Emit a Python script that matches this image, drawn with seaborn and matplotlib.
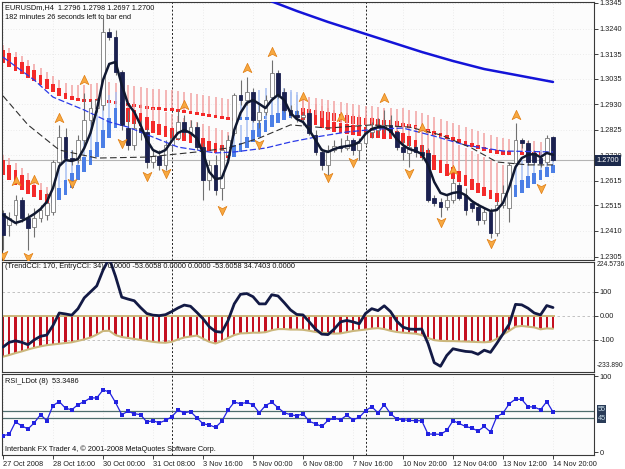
import numpy as np
import matplotlib
matplotlib.use('Agg')
import matplotlib.pyplot as plt
import matplotlib.transforms as mtransforms
from matplotlib.path import Path
import seaborn as sns

sns.set_theme(style='white')
plt.rcParams['font.family'] = ['Liberation Sans', 'DejaVu Sans']
FS = 5.3

# ---- price data (EURUSDm H4) ----
bars = np.arange(89)
date_ticks = [0, 8, 16, 24, 32, 40, 48, 56, 64, 72, 80, 88]
date_labels = ['27 Oct 2008', '28 Oct 16:00', '30 Oct 00:00', '31 Oct 08:00', '3 Nov 16:00',
               '5 Nov 00:00', '6 Nov 08:00', '7 Nov 16:00', '10 Nov 20:00', '12 Nov 04:00',
               '13 Nov 12:00', '14 Nov 20:00']
separators = [27, 58]
price_ticks = [1.3345, 1.3240, 1.3135, 1.3035, 1.2930, 1.2825, 1.2720, 1.2615, 1.2515, 1.2410, 1.2305]

open_ = [1.2484, 1.2435, 1.2476, 1.2537, 1.2464, 1.2427, 1.2464, 1.2476, 1.2488, 1.2693,
         1.2795, 1.2709, 1.2701, 1.2783, 1.2865, 1.2914, 1.2927, 1.3226, 1.3205, 1.3062,
         1.2832, 1.2762, 1.2832, 1.2816, 1.2693, 1.2717, 1.2681, 1.2762, 1.2791, 1.2857,
         1.2816, 1.2836, 1.2754, 1.2619, 1.2681, 1.2586, 1.2722, 1.2812, 1.2968, 1.2947,
         1.2980, 1.2865, 1.2898, 1.2959, 1.3058, 1.2980, 1.2906, 1.2886, 1.2877, 1.2894,
         1.2804, 1.2734, 1.2681, 1.2742, 1.2758, 1.2750, 1.2783, 1.2742, 1.2771, 1.2816,
         1.2824, 1.2832, 1.2845, 1.2816, 1.2754, 1.2730, 1.2754, 1.2734, 1.2730, 1.2545,
         1.2529, 1.2509, 1.2537, 1.2599, 1.2557, 1.2525, 1.2509, 1.2455, 1.2488, 1.2402,
         1.2517, 1.2504, 1.2689, 1.2783, 1.2771, 1.2730, 1.2709, 1.2693, 1.2796]
close = [1.2394, 1.2464, 1.2537, 1.2464, 1.2422, 1.2464, 1.2496, 1.2525, 1.2693, 1.2795,
         1.2709, 1.2701, 1.2783, 1.2865, 1.2914, 1.2947, 1.3226, 1.3205, 1.3062, 1.2845,
         1.2762, 1.2832, 1.2816, 1.2693, 1.2717, 1.2681, 1.2762, 1.2791, 1.2857, 1.2816,
         1.2836, 1.2754, 1.2619, 1.2681, 1.2578, 1.2742, 1.2783, 1.2968, 1.2947, 1.2980,
         1.2865, 1.2898, 1.2947, 1.3058, 1.2968, 1.2906, 1.2886, 1.2877, 1.2886, 1.2812,
         1.2734, 1.2681, 1.2742, 1.2758, 1.2750, 1.2783, 1.2742, 1.2771, 1.2816, 1.2824,
         1.2832, 1.2845, 1.2816, 1.2754, 1.2734, 1.2754, 1.2734, 1.2722, 1.2537, 1.2525,
         1.2509, 1.2537, 1.2607, 1.2545, 1.2496, 1.2504, 1.2455, 1.2488, 1.2402, 1.2517,
         1.2566, 1.2681, 1.2783, 1.2771, 1.2693, 1.2693, 1.2689, 1.2791, 1.2700]
high = [1.2496, 1.2488, 1.2557, 1.2549, 1.2484, 1.2504, 1.2517, 1.2566, 1.2701, 1.2845,
        1.2832, 1.2742, 1.2804, 1.2976, 1.2947, 1.2955, 1.3283, 1.3242, 1.3234, 1.3070,
        1.2906, 1.2865, 1.2865, 1.2832, 1.2742, 1.2742, 1.2783, 1.2824, 1.2906, 1.2886,
        1.2865, 1.2857, 1.2771, 1.2701, 1.2722, 1.2762, 1.2804, 1.2976, 1.3029, 1.3041,
        1.2996, 1.2927, 1.2968, 1.3111, 1.3070, 1.2996, 1.2927, 1.2906, 1.2898, 1.2906,
        1.2824, 1.2750, 1.2762, 1.2783, 1.2791, 1.2804, 1.2791, 1.2791, 1.2845, 1.2857,
        1.2873, 1.2906, 1.2886, 1.2824, 1.2783, 1.2783, 1.2762, 1.2762, 1.2750, 1.2557,
        1.2545, 1.2557, 1.2627, 1.2611, 1.2586, 1.2537, 1.2525, 1.2504, 1.2504, 1.2537,
        1.2599, 1.2689, 1.2853, 1.2791, 1.2783, 1.2742, 1.2722, 1.2804, 1.2798]
low = [1.2332, 1.2389, 1.2435, 1.2447, 1.2332, 1.2385, 1.2447, 1.2455, 1.2476, 1.2681,
       1.2701, 1.2681, 1.2689, 1.2762, 1.2832, 1.2898, 1.2906, 1.3193, 1.3050, 1.2824,
       1.2742, 1.2742, 1.2783, 1.2668, 1.2668, 1.2660, 1.2660, 1.2742, 1.2783, 1.2804,
       1.2799, 1.2742, 1.2537, 1.2578, 1.2557, 1.2537, 1.2701, 1.2804, 1.2927, 1.2927,
       1.2857, 1.2832, 1.2886, 1.2947, 1.2955, 1.2898, 1.2873, 1.2857, 1.2845, 1.2804,
       1.2722, 1.2660, 1.2640, 1.2734, 1.2734, 1.2742, 1.2722, 1.2701, 1.2762, 1.2791,
       1.2804, 1.2812, 1.2799, 1.2742, 1.2701, 1.2672, 1.2713, 1.2701, 1.2529, 1.2513,
       1.2468, 1.2496, 1.2525, 1.2537, 1.2476, 1.2488, 1.2435, 1.2439, 1.2381, 1.2389,
       1.2504, 1.2447, 1.2681, 1.2750, 1.2681, 1.2681, 1.2672, 1.2681, 1.2697]
last_price = 1.2700

# ---- smoothed heiken ashi, slow (upper band) ----
slow_open = [1.3152, 1.3140, 1.3123, 1.3103, 1.3086, 1.3070, 1.3050, 1.3033, 1.3013, 1.2996,
             1.2976, 1.2964, 1.2955, 1.2951, 1.2951, 1.2951, 1.2951, 1.2947, 1.2943, 1.2939,
             1.2935, 1.2931, 1.2927, 1.2923, 1.2918, 1.2918, 1.2914, 1.2914, 1.2910, 1.2906,
             1.2902, 1.2898, 1.2894, 1.2890, 1.2886, 1.2882, 1.2877, 1.2873, 1.2865, 1.2865,
             1.2865, 1.2869, 1.2869, 1.2873, 1.2873, 1.2873, 1.2873, 1.2873, 1.2914, 1.2910,
             1.2906, 1.2902, 1.2898, 1.2894, 1.2890, 1.2886, 1.2882, 1.2877, 1.2873, 1.2873,
             1.2869, 1.2865, 1.2865, 1.2861, 1.2853, 1.2849, 1.2845, 1.2836, 1.2828, 1.2820,
             1.2812, 1.2804, 1.2795, 1.2787, 1.2779, 1.2771, 1.2762, 1.2754, 1.2746, 1.2742,
             1.2738, 1.2738, 1.2734, 1.2734, 1.2734, 1.2734, 1.2734, 1.2734, 1.2734]
slow_close = [1.3099, 1.3082, 1.3066, 1.3054, 1.3037, 1.3025, 1.3009, 1.2992, 1.2980, 1.2964,
              1.2951, 1.2947, 1.2943, 1.2939, 1.2939, 1.2939, 1.2939, 1.2935, 1.2931, 1.2927,
              1.2923, 1.2918, 1.2914, 1.2910, 1.2906, 1.2906, 1.2902, 1.2902, 1.2898, 1.2894,
              1.2890, 1.2886, 1.2882, 1.2877, 1.2873, 1.2869, 1.2865, 1.2861, 1.2877, 1.2877,
              1.2877, 1.2882, 1.2882, 1.2886, 1.2886, 1.2886, 1.2886, 1.2886, 1.2882, 1.2877,
              1.2873, 1.2869, 1.2865, 1.2861, 1.2857, 1.2853, 1.2849, 1.2845, 1.2845, 1.2845,
              1.2841, 1.2841, 1.2841, 1.2841, 1.2836, 1.2832, 1.2828, 1.2820, 1.2812, 1.2804,
              1.2795, 1.2787, 1.2779, 1.2771, 1.2762, 1.2754, 1.2746, 1.2738, 1.2730, 1.2726,
              1.2722, 1.2722, 1.2722, 1.2722, 1.2722, 1.2722, 1.2722, 1.2722, 1.2722]
slow_high = [1.3173, 1.3160, 1.3144, 1.3127, 1.3111, 1.3095, 1.3078, 1.3062, 1.3046, 1.3029,
             1.3017, 1.3009, 1.3009, 1.3009, 1.3013, 1.3017, 1.3021, 1.3021, 1.3017, 1.3013,
             1.3009, 1.3005, 1.3000, 1.2996, 1.2992, 1.2992, 1.2988, 1.2988, 1.2984, 1.2980,
             1.2976, 1.2972, 1.2968, 1.2964, 1.2959, 1.2955, 1.2951, 1.2947, 1.2955, 1.2968,
             1.2980, 1.2988, 1.2996, 1.3000, 1.3000, 1.2996, 1.2988, 1.2980, 1.2964, 1.2959,
             1.2955, 1.2951, 1.2947, 1.2943, 1.2939, 1.2935, 1.2931, 1.2927, 1.2923, 1.2923,
             1.2918, 1.2914, 1.2914, 1.2910, 1.2914, 1.2906, 1.2902, 1.2894, 1.2886, 1.2877,
             1.2869, 1.2861, 1.2853, 1.2845, 1.2836, 1.2828, 1.2820, 1.2812, 1.2804, 1.2795,
             1.2791, 1.2787, 1.2783, 1.2783, 1.2779, 1.2779, 1.2775, 1.2775, 1.2775]

# ---- smoothed heiken ashi, fast (lower band) ----
fast_open = [1.2701, 1.2681, 1.2660, 1.2640, 1.2619, 1.2599, 1.2578, 1.2562, 1.2525, 1.2537,
             1.2557, 1.2586, 1.2619, 1.2652, 1.2681, 1.2713, 1.2750, 1.2791, 1.2832, 1.2865,
             1.2914, 1.2906, 1.2894, 1.2877, 1.2861, 1.2849, 1.2841, 1.2832, 1.2824, 1.2820,
             1.2812, 1.2804, 1.2791, 1.2779, 1.2771, 1.2762, 1.2750, 1.2713, 1.2734, 1.2750,
             1.2775, 1.2795, 1.2816, 1.2836, 1.2853, 1.2865, 1.2873, 1.2873, 1.2898, 1.2894,
             1.2886, 1.2873, 1.2865, 1.2857, 1.2853, 1.2849, 1.2845, 1.2841, 1.2836, 1.2832,
             1.2832, 1.2828, 1.2824, 1.2820, 1.2812, 1.2799, 1.2783, 1.2762, 1.2742, 1.2722,
             1.2701, 1.2685, 1.2672, 1.2656, 1.2640, 1.2623, 1.2607, 1.2590, 1.2578, 1.2566,
             1.2557, 1.2537, 1.2549, 1.2566, 1.2586, 1.2603, 1.2619, 1.2631, 1.2648]
fast_close = [1.2640, 1.2619, 1.2599, 1.2578, 1.2562, 1.2549, 1.2537, 1.2525, 1.2557, 1.2586,
              1.2619, 1.2648, 1.2681, 1.2713, 1.2742, 1.2775, 1.2824, 1.2873, 1.2914, 1.2939,
              1.2857, 1.2849, 1.2841, 1.2824, 1.2812, 1.2804, 1.2795, 1.2787, 1.2783, 1.2779,
              1.2771, 1.2762, 1.2750, 1.2738, 1.2730, 1.2722, 1.2709, 1.2762, 1.2771, 1.2795,
              1.2824, 1.2853, 1.2865, 1.2886, 1.2894, 1.2906, 1.2906, 1.2902, 1.2865, 1.2857,
              1.2845, 1.2832, 1.2824, 1.2816, 1.2812, 1.2808, 1.2804, 1.2799, 1.2795, 1.2791,
              1.2791, 1.2787, 1.2787, 1.2783, 1.2771, 1.2758, 1.2734, 1.2709, 1.2681, 1.2660,
              1.2648, 1.2635, 1.2623, 1.2611, 1.2594, 1.2578, 1.2566, 1.2553, 1.2541, 1.2529,
              1.2521, 1.2578, 1.2599, 1.2619, 1.2635, 1.2648, 1.2660, 1.2672, 1.2681]
fast_high = [1.2722, 1.2709, 1.2689, 1.2668, 1.2648, 1.2627, 1.2607, 1.2590, 1.2599, 1.2660,
             1.2701, 1.2742, 1.2783, 1.2824, 1.2865, 1.2906, 1.2947, 1.2968, 1.2980, 1.2988,
             1.2947, 1.2939, 1.2931, 1.2923, 1.2914, 1.2906, 1.2898, 1.2890, 1.2882, 1.2873,
             1.2865, 1.2857, 1.2849, 1.2841, 1.2832, 1.2824, 1.2816, 1.2824, 1.2845, 1.2865,
             1.2898, 1.2927, 1.2947, 1.2968, 1.2980, 1.2988, 1.2980, 1.2968, 1.2947, 1.2939,
             1.2931, 1.2923, 1.2914, 1.2906, 1.2898, 1.2894, 1.2890, 1.2886, 1.2882, 1.2877,
             1.2873, 1.2873, 1.2869, 1.2865, 1.2857, 1.2849, 1.2841, 1.2832, 1.2824, 1.2812,
             1.2799, 1.2787, 1.2775, 1.2762, 1.2750, 1.2738, 1.2726, 1.2713, 1.2701, 1.2689,
             1.2681, 1.2660, 1.2681, 1.2701, 1.2722, 1.2734, 1.2742, 1.2750, 1.2754]

# ---- moving averages ----
fast_ma = [1.2476, 1.2459, 1.2443, 1.2451, 1.2464, 1.2480, 1.2500, 1.2529, 1.2586, 1.2676,
           1.2701, 1.2697, 1.2705, 1.2750, 1.2812, 1.2906, 1.3029, 1.3095, 1.3103, 1.3009,
           1.2931, 1.2898, 1.2845, 1.2783, 1.2742, 1.2730, 1.2742, 1.2779, 1.2812, 1.2824,
           1.2812, 1.2791, 1.2730, 1.2652, 1.2623, 1.2627, 1.2693, 1.2824, 1.2894, 1.2935,
           1.2947, 1.2931, 1.2914, 1.2947, 1.2968, 1.2947, 1.2894, 1.2869, 1.2857, 1.2824,
           1.2783, 1.2742, 1.2734, 1.2746, 1.2754, 1.2758, 1.2762, 1.2775, 1.2808, 1.2828,
           1.2836, 1.2836, 1.2820, 1.2787, 1.2762, 1.2746, 1.2738, 1.2726, 1.2681, 1.2611,
           1.2566, 1.2557, 1.2566, 1.2570, 1.2557, 1.2533, 1.2517, 1.2504, 1.2492, 1.2496,
           1.2525, 1.2590, 1.2672, 1.2709, 1.2722, 1.2726, 1.2713, 1.2730, 1.2722]
blue_ma_bar = [0, 5, 8, 13, 17, 20, 24, 28, 34, 37, 42, 46, 50, 55, 60, 64, 69, 74, 80, 88]
blue_ma = [1.3123, 1.3029, 1.2959, 1.2906, 1.2857, 1.2836, 1.2795, 1.2754, 1.2730, 1.2734,
           1.2750, 1.2775, 1.2795, 1.2816, 1.2828, 1.2832, 1.2799, 1.2762, 1.2738, 1.2734]
black_ma_bar = [0, 4, 9, 15, 23, 31, 36, 41, 46, 52, 59, 65, 70, 75, 79, 84, 88]
black_ma = [1.2964, 1.2845, 1.2742, 1.2709, 1.2713, 1.2734, 1.2750, 1.2791, 1.2845, 1.2832,
            1.2845, 1.2836, 1.2804, 1.2750, 1.2693, 1.2681, 1.2681]
long_ma_bar = [42, 47, 52, 57, 62, 67, 72, 77, 82, 88]
long_ma = [1.3361, 1.3312, 1.3267, 1.3226, 1.3185, 1.3144, 1.3107, 1.3074, 1.3050, 1.3021]

# ---- fractal arrows ----
up_bar = [2, 5, 9, 13, 29, 39, 43, 48, 54, 61, 67, 72, 82]
up_price = [1.2615, 1.2619, 1.2873, 1.3029, 1.2927, 1.3078, 1.3144, 1.2959, 1.2877, 1.2955,
            1.2832, 1.2660, 1.2886]
down_bar = [0, 4, 11, 19, 23, 26, 35, 41, 52, 56, 65, 70, 78, 86]
down_price = [1.2312, 1.2303, 1.2607, 1.2771, 1.2636, 1.2648, 1.2496, 1.2767, 1.2632, 1.2693,
              1.2648, 1.2447, 1.2361, 1.2586]

# ---- CCI ----
trend_cci = [-170, -163, -155, -148, -140, -133, -127, -122, -119, -116,
             -113, -110, -104, -98, -90, -78, -63, -62, -80, -88,
             -92, -96, -100, -104, -108, -111, -112, -108, -98, -90,
             -86, -82, -95, -108, -115, -105, -92, -80, -73, -72,
             -70, -70, -68, -60, -55, -55, -57, -57, -58, -62,
             -67, -70, -72, -74, -73, -68, -63, -60, -57, -53,
             -51, -55, -62, -67, -70, -72, -74, -80, -92, -101,
             -104, -105, -105, -106, -107, -108, -109, -110, -108, -96,
             -78, -62, -45, -42, -45, -48, -56, -52, -53.6058]
entry_cci = [-130, -110, -104, -110, -120, -100, -85, -80, -40, 12,
             8, 3, 30, 75, 100, 125, 190, 240, 165, 78,
             70, 63, 35, 10, 3, 1, 5, 18, 33, 45,
             40, 15, -12, -45, -65, -68, -20, 50, 90, 93,
             80, 50, 50, 88, 83, 55, 25, 6, 4, -25,
             -55, -76, -78, -55, -25, -19, -25, -33, 10, 30,
             22, 42, 18, -22, -47, -55, -56, -55, -115, -195,
             -210, -165, -137, -143, -148, -150, -160, -143, -152, -115,
             -75, -35, 48, 46, 32, 12, 4, 43, 34.7403]
cci_max, cci_min = 224.5736, -233.890

# ---- RSI ----
rsi = [22.2, 23.8, 40.2, 35.0, 31.0, 39.0, 49.8, 41.8, 61.8, 67.0,
       58.2, 56.2, 63.0, 67.0, 71.8, 71.8, 82.2, 79.8, 65.8, 49.8,
       54.2, 51.0, 49.8, 40.2, 41.8, 39.0, 42.2, 47.0, 55.8, 52.2,
       53.8, 45.8, 37.8, 36.2, 33.0, 41.0, 55.8, 66.2, 64.2, 65.8,
       63.0, 52.2, 61.8, 66.2, 59.0, 52.2, 49.8, 48.2, 51.0, 41.0,
       37.8, 34.2, 42.2, 45.0, 43.0, 49.0, 43.0, 46.2, 55.0, 60.2,
       52.2, 63.0, 51.0, 44.2, 43.0, 42.2, 41.8, 41.8, 24.2, 24.2,
       23.8, 29.0, 41.8, 38.2, 34.2, 32.2, 28.2, 34.2, 27.0, 47.0,
       51.8, 64.2, 70.2, 69.8, 60.2, 59.8, 56.2, 67.0, 53.3486]
rsi_levels = [55, 45]

# ---- figure ----
fig = plt.figure(figsize=(6.25, 4.69), dpi=100)
fig.patch.set_facecolor('white')
ax = fig.add_axes([0.0032, 0.4456, 0.9472, 0.5502])
ax_cci = fig.add_axes([0.0032, 0.2068, 0.9472, 0.2346])
ax_rsi = fig.add_axes([0.0032, 0.0299, 0.9472, 0.1727])

XL = (-0.16, 94.56)
for a in (ax, ax_cci, ax_rsi):
    a.set_xlim(*XL)
    a.set_facecolor('#FCFCFC')
    for s in a.spines.values():
        s.set_color('#3A3A3A')
        s.set_linewidth(0.8)
    a.yaxis.tick_right()
    a.tick_params(axis='y', which='both', right=True, left=False, length=3, width=0.6,
                  pad=1, labelsize=FS, colors='#202020')
    for sx in separators:
        a.axvline(sx, color='#202020', lw=0.7, ls=(0, (2, 2)), zorder=1)

# main price panel
ax.set_ylim(1.2291, 1.3349)
ax.set_yticks(price_ticks)
ax.set_yticklabels(['%.4f' % p for p in price_ticks])
ax.set_xticks(date_ticks)
ax.tick_params(axis='x', bottom=False, labelbottom=False)
ax.grid(True, color='#DCDCDC', lw=0.5, ls=(0, (1, 3)))
ax.axhline(last_price, color='#B4B4B4', lw=0.8, zorder=1.5)


def draw_ha(a, o, c, h, red, blue, pink, lblue, z):
    o = np.array(o)
    c = np.array(c)
    h = np.array(h)
    bull = c >= o
    top = np.maximum(o, c)
    a.vlines(bars, top, h, colors=[lblue if b else pink for b in bull], lw=1.1, zorder=z)
    a.bar(bars, np.abs(c - o), bottom=np.minimum(o, c), width=0.62,
          color=[blue if b else red for b in bull], linewidth=0, zorder=z + 0.1)


draw_ha(ax, slow_open, slow_close, slow_high, '#F42A2A', '#4C7FE6', '#F2A2A2', '#A9C1F2', 2)
draw_ha(ax, fast_open, fast_close, fast_high, '#F42A2A', '#4C7FE6', '#F2A2A2', '#A9C1F2', 2.3)

# candles
o = np.array(open_)
c = np.array(close)
bull = c >= o
ax.vlines(bars, low, high, colors='#707070', lw=0.8, zorder=3)
body_h = np.maximum(np.abs(c - o), 0.00025)
ax.bar(bars, body_h, bottom=np.minimum(o, c), width=0.6,
       color=['white' if b else '#1B2150' for b in bull],
       edgecolor=['#7A7A7A' if b else '#1B2150' for b in bull], linewidth=0.6, zorder=3.2)

# moving averages
sns.lineplot(x=long_ma_bar, y=long_ma, ax=ax, color='#1414D8', lw=1.8, zorder=4)
ax.plot(blue_ma_bar, blue_ma, color='#2A3AE8', lw=0.9, ls=(0, (5, 2)), zorder=4)
ax.plot(black_ma_bar, black_ma, color='#303030', lw=0.8, ls=(0, (6, 3)), zorder=4)
sns.lineplot(x=bars, y=fast_ma, ax=ax, color='#101830', lw=1.8, zorder=4.5)

# fractal arrows
up_path = Path([(0, 1), (0.85, -0.8), (0, -0.35), (-0.85, -0.8), (0, 1)],
               [Path.MOVETO, Path.LINETO, Path.LINETO, Path.LINETO, Path.CLOSEPOLY])
down_path = Path([(0, -1), (0.85, 0.8), (0, 0.35), (-0.85, 0.8), (0, -1)],
                 [Path.MOVETO, Path.LINETO, Path.LINETO, Path.LINETO, Path.CLOSEPOLY])
ax.scatter(up_bar, up_price, marker=up_path, s=55, color='#F7A840', edgecolor='#E07C10',
           linewidth=0.5, zorder=6)
ax.scatter(down_bar, down_price, marker=down_path, s=55, color='#F7A840', edgecolor='#E07C10',
           linewidth=0.5, zorder=6)

ax.text(0.005, 0.977, 'EURUSDm,H4  1.2796 1.2798 1.2697 1.2700', transform=ax.transAxes,
        fontsize=FS, va='center', ha='left', color='#101010', zorder=7)
ax.text(0.005, 0.940, '182 minutes 26 seconds left to bar end', transform=ax.transAxes,
        fontsize=FS, va='center', ha='left', color='#101010', zorder=7)
trans = mtransforms.blended_transform_factory(ax.transAxes, ax.transData)
ax.text(1.004, last_price, '1.2700', transform=trans, fontsize=FS, va='center', ha='left',
        color='white', zorder=8, clip_on=False,
        bbox=dict(boxstyle='square,pad=0.25', fc='#1C2A4C', ec='none'))

# CCI panel
ax_cci.set_ylim(cci_min, cci_max)
ax_cci.set_yticks([100, 0, -100])
ax_cci.set_yticklabels(['100', '0.00', '-100'])
ax_cci.tick_params(axis='x', bottom=False, labelbottom=False)
for lv in (100, 0, -100):
    ax_cci.axhline(lv, color='#B8B8B8', lw=0.6, ls=(0, (3, 3)), zorder=1)
ax_cci.bar(bars, trend_cci, width=0.38, color='#C41020', linewidth=0, zorder=2)
ax_cci.plot(bars, trend_cci, color='#CBB77C', lw=1.5, zorder=2.5)
ax_cci.hlines(0, bars[0] - 0.3, bars[-1] + 0.3, color='#CBB77C', lw=1.4, zorder=2.5)
sns.lineplot(x=bars, y=entry_cci, ax=ax_cci, color='#131A45', lw=2, zorder=3)
ax_cci.text(0.005, 0.955,
            '(TrendCCI: 170, EntryCCI: 34)  0.0000 -53.6058 0.0000 0.0000 -53.6058 34.7403 0.0000',
            transform=ax_cci.transAxes, fontsize=FS, va='center', ha='left', color='#101010')
ax_cci.text(1.005, 0.975, '224.5736', transform=ax_cci.transAxes, fontsize=4.9, va='center',
            ha='left', color='#202020', clip_on=False)
ax_cci.text(1.005, 0.06, '-233.890', transform=ax_cci.transAxes, fontsize=4.9, va='center',
            ha='left', color='#202020', clip_on=False)

# RSI panel
ax_rsi.set_ylim(-3.3, 103.3)
ax_rsi.set_yticks([100, 0])
ax_rsi.set_yticklabels(['100', '0'])
ax_rsi.grid(True, axis='x', color='#DCDCDC', lw=0.5, ls=(0, (1, 3)))
for lv in rsi_levels:
    ax_rsi.axhline(lv, color='#4E6E6E', lw=0.9, zorder=1.5)
sns.lineplot(x=bars, y=rsi, ax=ax_rsi, color='#2222E0', lw=0.9, marker='s', markersize=2.6,
             markeredgewidth=0, zorder=3)
trans_r = mtransforms.blended_transform_factory(ax_rsi.transAxes, ax_rsi.transData)
ax_rsi.text(1.006, 56.5, '55', transform=trans_r, fontsize=FS, va='center', ha='left',
            color='#C8DCE8', clip_on=False,
            bbox=dict(boxstyle='square,pad=0.1', fc='#2A3C58', ec='none'))
ax_rsi.text(1.006, 44.5, '45', transform=trans_r, fontsize=FS, va='center', ha='left',
            color='#C8DCE8', clip_on=False,
            bbox=dict(boxstyle='square,pad=0.1', fc='#2A3C58', ec='none'))
ax_rsi.text(0.005, 0.905, 'RSI_LDot (8)  53.3486', transform=ax_rsi.transAxes, fontsize=FS,
            va='center', ha='left', color='#101010')
ax_rsi.text(0.005, 0.075, 'Interbank FX Trader 4, \u00a9 2001-2008 MetaQuotes Software Corp.',
            transform=ax_rsi.transAxes, fontsize=FS, va='center', ha='left', color='#101010')
ax_rsi.set_xticks(date_ticks)
ax_rsi.set_xticklabels(date_labels, ha='left')
ax_rsi.tick_params(axis='x', bottom=True, length=3, width=0.6, pad=1.5, labelsize=FS,
                   colors='#202020')
for a in (ax, ax_cci, ax_rsi):
    a.set_xlabel('')
    a.set_ylabel('')

fig.savefig('out.png', dpi=100)
